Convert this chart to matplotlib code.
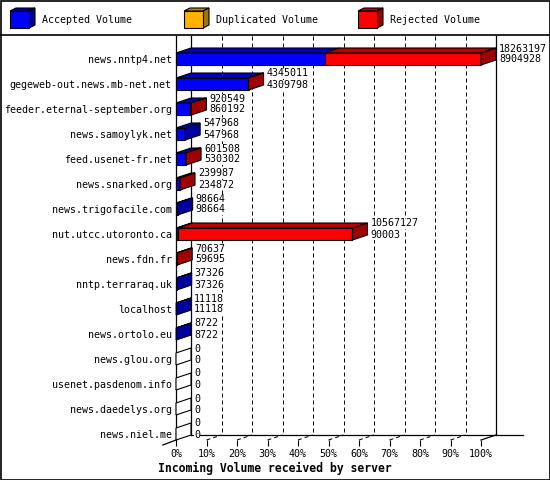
import numpy as np
import matplotlib
matplotlib.use("Agg")
import matplotlib.pyplot as plt
from matplotlib.patches import Polygon, Rectangle

plt.rcParams['font.family'] = ['DejaVu Sans Mono']

# data
servers = ["news.nntp4.net", "gegeweb-out.news.mb-net.net", "feeder.eternal-september.org",
           "news.samoylyk.net", "feed.usenet-fr.net", "news.snarked.org", "news.trigofacile.com",
           "nut.utcc.utoronto.ca", "news.fdn.fr", "nntp.terraraq.uk", "localhost",
           "news.ortolo.eu", "news.glou.org", "usenet.pasdenom.info", "news.daedelys.org",
           "news.niel.me"]
total = [18263197, 4345011, 920549, 547968, 601508, 239987, 98664, 10567127,
         70637, 37326, 11118, 8722, 0, 0, 0, 0]
accepted = [8904928, 4309798, 860192, 547968, 530302, 234872, 98664, 90003,
            59695, 37326, 11118, 8722, 0, 0, 0, 0]
duplicated = [0, 0, 0, 0, 30000, 0, 0, 0, 0, 0, 0, 0, 0, 0, 0, 0]
rejected = [t - a - d for t, a, d in zip(total, accepted, duplicated)]
ticks = list(range(0, 101, 10))

# colours: front, top, side
cols = [("#0000FF", "#0000C0", "#0000A0"),
        ("#FFB000", "#C08800", "#A07800"),
        ("#FF0000", "#C00000", "#A00000")]
names = ["Accepted Volume", "Duplicated Volume", "Rejected Volume"]

W, H = 550, 480
fig = plt.figure(figsize=(5.5, 4.8), dpi=100)
fig.patch.set_facecolor("white")

# frame / legend layer in pixel coords
bg = fig.add_axes([0, 0, 1, 1])
bg.set_xlim(0, W)
bg.set_ylim(H, 0)
bg.axis("off")
bg.add_patch(Rectangle((0.5, 0.5), W - 1, H - 1, fill=False, ec="black", lw=1.2))
bg.plot([0, W], [35, 35], color="black", lw=1.2)
for k, (name, (fc, tc, sc)) in enumerate(zip(names, cols)):
    x0 = [10, 184, 358][k]
    y0, s, d = 11, 19, 6
    bg.add_patch(Polygon([(x0, y0), (x0 + s, y0), (x0 + s + d, y0 - 3), (x0 + d, y0 - 3)],
                         fc=tc, ec="black", lw=0.8))
    bg.add_patch(Polygon([(x0 + s, y0), (x0 + s + d, y0 - 3), (x0 + s + d, y0 + 17 - 3), (x0 + s, y0 + 17)],
                         fc=sc, ec="black", lw=0.8))
    bg.add_patch(Rectangle((x0, y0), s, 17, fc=fc, ec="black", lw=0.8))
    bg.text(x0 + 32, 20, name, fontsize=7.2, va="center", ha="left")

# plot axes: x in percent of largest total, y in rows
ax = fig.add_axes([176 / W, 40 / H, 305 / W, 404 / H])
ax.set_facecolor("none")
ax.set_xlim(0, 100)
ax.set_ylim(15.24, -0.92)
DX = 15 / 3.05   # depth in % units
DY = 5 / 25      # depth in rows
h = 0.24
floor = 15.24 - DY
top = -0.92

for sp in ["top", "right", "bottom"]:
    ax.spines[sp].set_visible(False)
ax.spines["left"].set_linewidth(0.9)

ax.set_xticks(ticks)
ax.set_xticklabels([f"{t}%" for t in ticks], fontsize=7.2)
ax.tick_params(axis="x", direction="out", length=4, width=0.8, pad=2.5)
ax.set_yticks(range(len(servers)))
ax.set_yticklabels(servers, fontsize=7.2)
ax.tick_params(axis="y", length=0, pad=3)

# back walls, floor and grid
kw = dict(color="black", lw=0.9, clip_on=False)
ax.plot([DX, DX], [top, floor], **kw)
ax.plot([100 + DX, 100 + DX], [top, floor], **kw)
ax.plot([DX, 113.8], [floor, floor], **kw)
ax.plot([-4.3, 0], [15.44, 15.24], **kw)
ax.plot([100, 100 + DX], [15.24, floor], **kw)
for t in ticks[1:-1]:
    ax.plot([t + DX, t + DX], [top, floor], color="black", lw=0.72,
            linestyle=(0, (4, 3)), zorder=1, clip_on=False)
    ax.plot([t, t + DX], [15.24, floor], color="black", lw=0.72,
            linestyle=(0, (4, 3)), zorder=1, clip_on=False)

vmax = max(total)
box = dict(fc="white", ec="none", pad=0)
for i in range(len(servers)):
    segs = [accepted[i], duplicated[i], rejected[i]]
    x0 = 0.0
    side = "white"
    for v, (fc, tc, sc) in zip(segs, cols):
        if v <= 0:
            continue
        w = v / vmax * 100
        x1 = x0 + w
        ax.add_patch(Polygon([(x0, i - h), (x1, i - h), (x1 + DX, i - h - DY), (x0 + DX, i - h - DY)],
                             fc=tc, ec="black", lw=0.8, zorder=3, clip_on=False))
        ax.add_patch(Rectangle((x0, i - h), w, 2 * h, fc=fc, ec="black", lw=0.8,
                               zorder=3, clip_on=False))
        side = sc
        x0 = x1
    xe = x0
    ax.add_patch(Polygon([(xe, i - h), (xe + DX, i - h - DY), (xe + DX, i + h - DY), (xe, i + h)],
                         fc=side, ec="black", lw=0.8, zorder=4, clip_on=False))
    ax.text(xe + DX + 1, i - DY - 0.22, str(total[i]), fontsize=7.2, va="center",
            ha="left", zorder=5, clip_on=False, bbox=box)
    ax.text(xe + DX + 1, i - DY + 0.22, str(accepted[i]), fontsize=7.2, va="center",
            ha="left", zorder=5, clip_on=False, bbox=box)

fig.text(0.5, 1 - 468 / H, "Incoming Volume received by server", fontsize=8.3,
         fontweight="bold", ha="center", va="center")

fig.savefig("out.png", dpi=100)
